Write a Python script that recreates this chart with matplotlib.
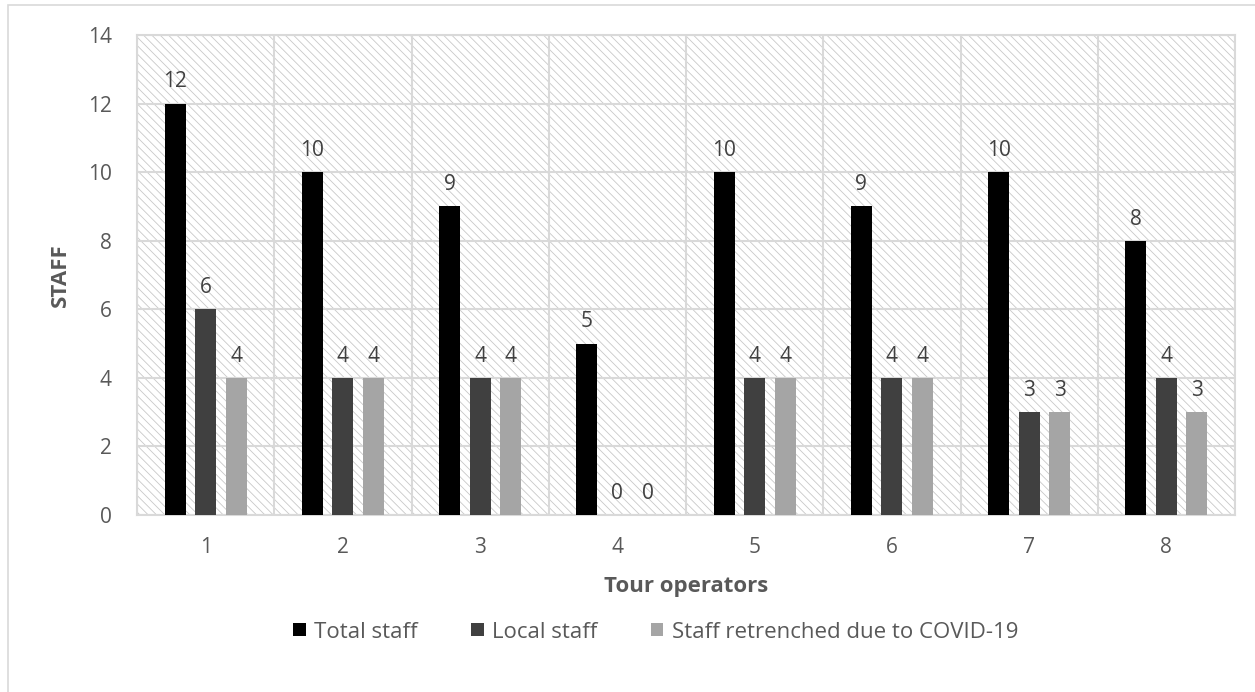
import numpy as np
import matplotlib
matplotlib.use("Agg")
import matplotlib.pyplot as plt
from matplotlib.patches import Rectangle, Patch

plt.rcParams['font.family'] = ['Open Sans', 'DejaVu Sans']
plt.rcParams['hatch.linewidth'] = 0.6
plt.rcParams['hatch.color'] = '#c8c8c8'

# data
operators = ['1', '2', '3', '4', '5', '6', '7', '8']
total_staff = [12, 10, 9, 5, 10, 9, 10, 8]
local_staff = [6, 4, 4, 0, 4, 4, 3, 4]
retrenched = [4, 4, 4, 0, 4, 4, 3, 3]
series_names = ['Total staff', 'Local staff', 'Staff retrenched due to COVID-19']
colors = ['#000000', '#404040', '#a5a5a5']

fig = plt.figure(figsize=(12.55, 6.92), dpi=100)
ax = fig.add_axes([137 / 1255, 1 - 515 / 692, (1235 - 137) / 1255, (515 - 35) / 692])

# hatched plot background
bg = Rectangle((0, 0), 1, 1, transform=ax.transAxes, facecolor='white',
               hatch='\\\\\\\\', edgecolor='#c8c8c8', linewidth=0, zorder=0)
ax.add_patch(bg)

x = np.arange(len(operators))
width = 0.153
step = 0.223
for i, (vals, name, c) in enumerate(zip([total_staff, local_staff, retrenched], series_names, colors)):
    pos = x + (i - 1) * step
    bars = ax.bar(pos, vals, width, color=c, label=name, zorder=3)
    for p, v in zip(pos, vals):
        ax.annotate(str(v), (p, v), xytext=(0, 8), textcoords='offset points',
                    ha='center', va='bottom', fontsize=15, color='#404040', zorder=4)

ax.set_xlim(-0.5, len(operators) - 0.5)
ax.set_ylim(0, 14)
ax.set_yticks(np.arange(0, 15, 2))
ax.set_xticks(x)
ax.set_xticklabels(operators)
ax.set_xticks(np.arange(-0.5, len(operators)), minor=True)
ax.grid(True, axis='y', color='#d9d9d9', linewidth=1.5, zorder=1)
ax.grid(True, axis='x', which='minor', color='#d9d9d9', linewidth=1.5, zorder=1)
ax.grid(False, axis='x', which='major')
ax.set_axisbelow(True)
ax.tick_params(axis='both', which='both', length=0, labelsize=15, labelcolor='#595959')
ax.tick_params(axis='y', pad=18)
ax.tick_params(axis='x', pad=16)
for s in ax.spines.values():
    s.set_color('#d9d9d9')
    s.set_linewidth(1.5)

ax.set_ylabel('STAFF', fontsize=16, fontweight='bold', color='#595959', labelpad=12)
ax.set_xlabel('Tour operators', fontsize=16, fontweight='bold', color='#595959', labelpad=13)

handles = [Patch(facecolor=c, label=n) for c, n in zip(colors, series_names)]
fig.legend(handles=handles, loc='center', bbox_to_anchor=(656 / 1255, 1 - 632 / 692),
           ncol=3, frameon=False, fontsize=16, labelcolor='#595959',
           handlelength=0.55, handleheight=0.55, handletextpad=0.4, columnspacing=2.4)

# outer chart border (right and bottom edges fall outside the image)
fig.patches.append(Rectangle((8 / 1255, -0.01), 1.0, 1 - 5 / 692 + 0.01,
                             transform=fig.transFigure, fill=False,
                             edgecolor='#d9d9d9', linewidth=1.2))

fig.savefig('out.png', dpi=100)
